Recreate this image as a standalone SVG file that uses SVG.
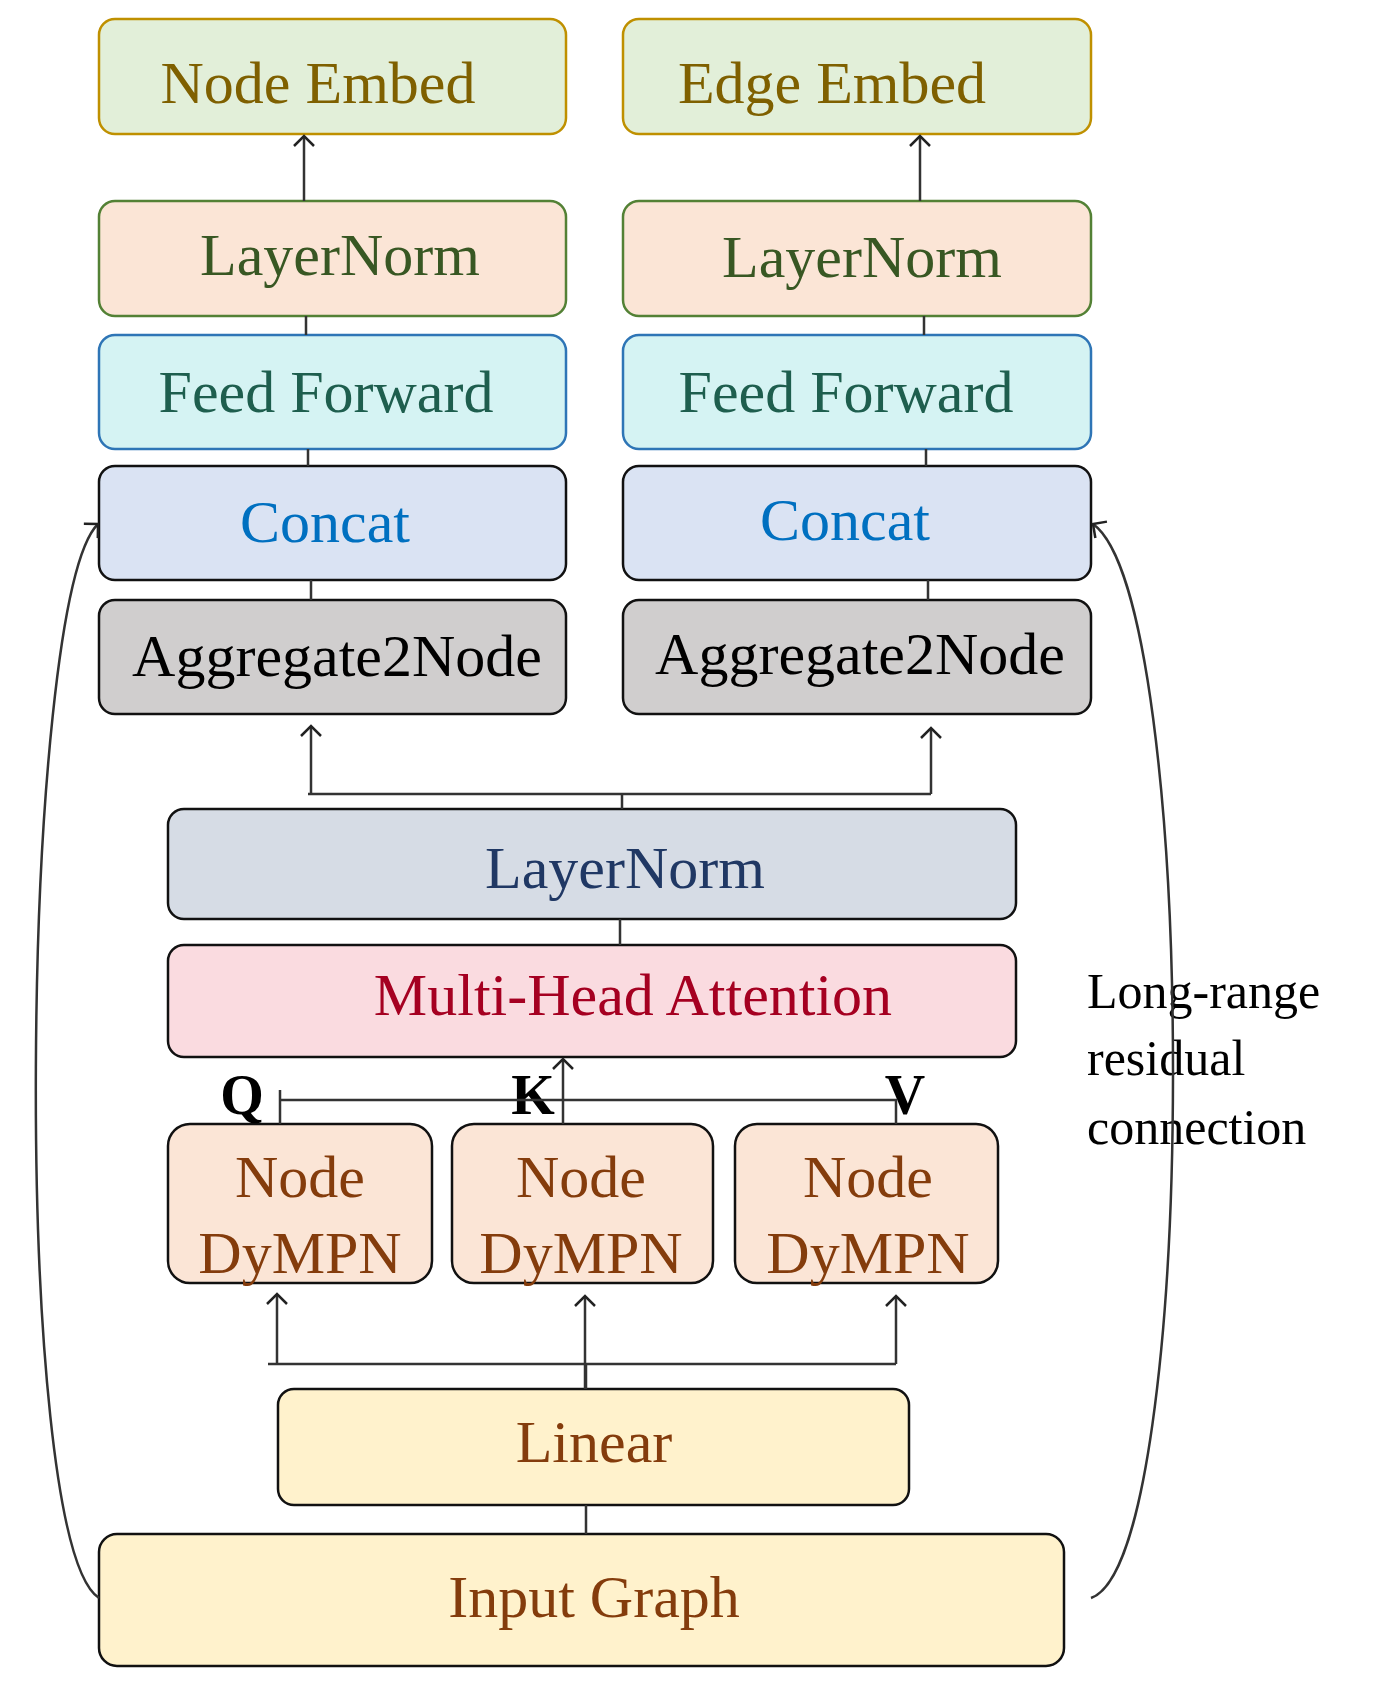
<svg xmlns="http://www.w3.org/2000/svg" width="1373" height="1681" viewBox="0 0 1373 1681">
<style>
text{font-family:"Liberation Serif","Times New Roman",serif;text-anchor:middle}
.t{font-size:60px}
.c{fill:none;stroke:#333;stroke-width:2.5}
</style>
<defs><marker id="a" markerWidth="24" markerHeight="24" refX="12" refY="12" orient="auto" markerUnits="userSpaceOnUse"><path d="M2,2 L12,12 L2,22" fill="none" stroke="#222" stroke-width="2.5"/></marker></defs>
<rect width="1373" height="1681" fill="#fff"/>
<g id="nodeEmbed"><rect x="99" y="19" width="467" height="115" rx="16" fill="#e2efd9" stroke="#bf9000" stroke-width="2.5"/><text class="t" x="318" y="103" fill="#7f6000">Node Embed</text></g>
<g id="edgeEmbed"><rect x="623" y="19" width="468" height="115" rx="16" fill="#e2efd9" stroke="#bf9000" stroke-width="2.5"/><text class="t" x="832" y="103" fill="#7f6000">Edge Embed</text></g>
<g id="ln1"><rect x="99" y="201" width="467" height="115" rx="16" fill="#fbe5d6" stroke="#538135" stroke-width="2.5"/><text class="t" x="340" y="275" fill="#385723">LayerNorm</text></g>
<g id="ln2"><rect x="623" y="201" width="468" height="115" rx="16" fill="#fbe5d6" stroke="#538135" stroke-width="2.5"/><text class="t" x="862" y="277" fill="#385723">LayerNorm</text></g>
<g id="ff1"><rect x="99" y="335" width="467" height="114" rx="16" fill="#d5f3f3" stroke="#2e75b6" stroke-width="2.5"/><text class="t" x="326" y="412" fill="#1e5e4e">Feed Forward</text></g>
<g id="ff2"><rect x="623" y="335" width="468" height="114" rx="16" fill="#d5f3f3" stroke="#2e75b6" stroke-width="2.5"/><text class="t" x="846" y="412" fill="#1e5e4e">Feed Forward</text></g>
<g id="cc1"><rect x="99" y="466" width="467" height="114" rx="16" fill="#dae3f3" stroke="#111" stroke-width="2.5"/><text class="t" x="325" y="542" fill="#0070c0">Concat</text></g>
<g id="cc2"><rect x="623" y="466" width="468" height="114" rx="16" fill="#dae3f3" stroke="#111" stroke-width="2.5"/><text class="t" x="845" y="540" fill="#0070c0">Concat</text></g>
<g id="ag1"><rect x="99" y="600" width="467" height="114" rx="16" fill="#d0cece" stroke="#111" stroke-width="2.5"/><text class="t" x="337" y="676" fill="#000">Aggregate2Node</text></g>
<g id="ag2"><rect x="623" y="600" width="468" height="114" rx="16" fill="#d0cece" stroke="#111" stroke-width="2.5"/><text class="t" x="860" y="674" fill="#000">Aggregate2Node</text></g>
<g id="lnBig"><rect x="168" y="809" width="848" height="110" rx="16" fill="#d6dce5" stroke="#111" stroke-width="2.5"/><text class="t" x="625" y="888" fill="#203864">LayerNorm</text></g>
<g id="mha"><rect x="168" y="945" width="848" height="112" rx="16" fill="#fadbe0" stroke="#111" stroke-width="2.5"/><text class="t" x="633" y="1015" fill="#a50021">Multi-Head Attention</text></g>
<g id="d1"><rect x="168" y="1124" width="264" height="159" rx="22" fill="#fbe5d6" stroke="#111" stroke-width="2.5"/><text class="t" x="300" y="1197" fill="#843c0c">Node</text><text class="t" x="300" y="1273" fill="#843c0c">DyMPN</text></g>
<g id="d2"><rect x="452" y="1124" width="261" height="159" rx="22" fill="#fbe5d6" stroke="#111" stroke-width="2.5"/><text class="t" x="581" y="1197" fill="#843c0c">Node</text><text class="t" x="581" y="1273" fill="#843c0c">DyMPN</text></g>
<g id="d3"><rect x="735" y="1124" width="263" height="159" rx="22" fill="#fbe5d6" stroke="#111" stroke-width="2.5"/><text class="t" x="868" y="1197" fill="#843c0c">Node</text><text class="t" x="868" y="1273" fill="#843c0c">DyMPN</text></g>
<g id="linear"><rect x="278" y="1389" width="631" height="116" rx="16" fill="#fff2cc" stroke="#111" stroke-width="2.5"/><text class="t" x="594" y="1462" fill="#843c0c">Linear</text></g>
<g id="input"><rect x="99" y="1534" width="965" height="132" rx="18" fill="#fff2cc" stroke="#111" stroke-width="2.5"/><text class="t" x="594" y="1617" fill="#843c0c">Input Graph</text></g>
<g id="labels" font-size="50">
<text x="242" y="1114" font-weight="bold" font-size="56">Q</text>
<text x="533" y="1114" font-weight="bold" font-size="56">K</text>
<text x="905" y="1114" font-weight="bold" font-size="56">V</text>
<text x="1087" y="1008" style="text-anchor:start">Long-range</text>
<text x="1087" y="1075" style="text-anchor:start">residual</text>
<text x="1087" y="1144" style="text-anchor:start">connection</text>
</g>
<g id="connectors">
<path class="c" d="M304,201 V136" marker-end="url(#a)"/>
<path class="c" d="M920,201 V136" marker-end="url(#a)"/>
<path class="c" d="M306,316 V335 M924,316 V335 M308,449 V466 M926,449 V466 M311,580 V600 M928,580 V600"/>
<path class="c" d="M308,794 H931 M622,794 V809 M620,919 V945"/>
<path class="c" d="M311,794 V726" marker-end="url(#a)"/>
<path class="c" d="M931,794 V728" marker-end="url(#a)"/>
<path class="c" d="M280,1124 V1100 H896 V1124 M280,1090 V1110"/>
<path class="c" d="M563,1124 V1059" marker-end="url(#a)"/>
<path class="c" d="M268,1364 H896 M586,1389 V1364 M586,1505 V1534"/>
<path class="c" d="M277,1364 V1294" marker-end="url(#a)"/>
<path class="c" d="M585,1389 V1296" marker-end="url(#a)"/>
<path class="c" d="M896,1364 V1296" marker-end="url(#a)"/>
<path class="c" d="M99,1598 C10,1540 20,600 98,524" marker-end="url(#a)"/>
<path class="c" d="M1091,1598 C1200,1560 1200,600 1093,524" marker-end="url(#a)"/>
</g>
</svg>
